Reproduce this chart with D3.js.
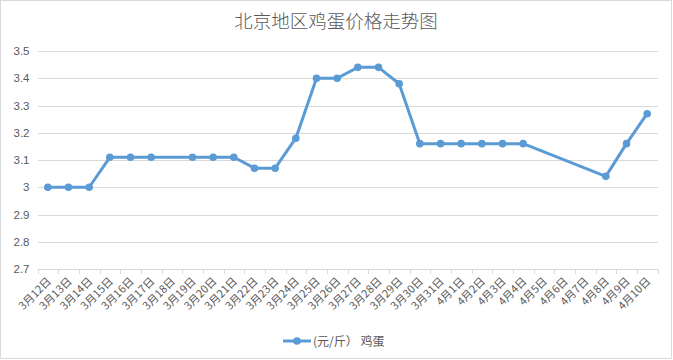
<!DOCTYPE html>
<html><head><meta charset="utf-8">
<script src="https://cdn.jsdelivr.net/npm/d3@7/dist/d3.min.js"></script>
<style>
html,body{margin:0;padding:0;background:#fff;}
svg{display:block;font-family:"Noto Sans CJK SC","Noto Sans",sans-serif;}
</style></head>
<body><svg id="c" width="673" height="360"></svg>
<script>
const title = "北京地区鸡蛋价格走势图";
const seriesName = "(元/斤） 鸡蛋";
const categories = ["3月12日","3月13日","3月14日","3月15日","3月16日","3月17日","3月18日","3月19日","3月20日","3月21日","3月22日","3月23日","3月24日","3月25日","3月26日","3月27日","3月28日","3月29日","3月30日","3月31日","4月1日","4月2日","4月3日","4月4日","4月5日","4月6日","4月7日","4月8日","4月9日","4月10日"];
const prices = [3.00,3.00,3.00,3.11,3.11,3.11,null,3.11,3.11,3.11,3.07,3.07,3.18,3.40,3.40,3.44,3.44,3.38,3.16,3.16,3.16,3.16,3.16,3.16,null,null,null,3.04,3.16,3.27];
const yTicks = [2.7,2.8,2.9,3.0,3.1,3.2,3.3,3.4,3.5];

const svg = d3.select("#c");
const W = 673, H = 360;
const m = {left: 37.5, right: 15.5, top: 51, bottom: 91};
const grid = "#d9d9d9", txt = "#595959", blue = "#5B9BD5";

svg.append("rect").attr("x",0.5).attr("y",0.5).attr("width",W-2).attr("height",H-2)
  .attr("fill","#fff").attr("stroke",grid);

const x = d3.scaleBand().domain(categories).range([m.left, W - m.right]).padding(0);
const y = d3.scaleLinear().domain([2.7,3.5]).range([H - m.bottom, m.top]);

svg.append("text").attr("x", 336).attr("y", 28).attr("text-anchor","middle")
  .attr("font-size", 18.5).attr("fill", txt).attr("font-weight",300).text(title);

// grid
const yAxis = d3.axisLeft(y).tickValues(yTicks).tickSize(-(W - m.left - m.right)).tickPadding(8)
  .tickFormat(d => d3.format("")(+d.toFixed(1)));
const gy = svg.append("g").attr("transform",`translate(${m.left},0)`).call(yAxis);
gy.select(".domain").remove();
gy.selectAll(".tick line").attr("stroke", grid).attr("shape-rendering","crispEdges");
gy.selectAll(".tick text").attr("fill", txt).attr("font-size", 11.5).attr("x",-8);

// x axis
const xAxis = d3.axisBottom(x).tickSizeInner(0).tickSizeOuter(0).tickFormat("");
const gx = svg.append("g").attr("transform",`translate(0,${y(2.7)})`).call(xAxis);
gx.select(".domain").attr("stroke", grid).attr("shape-rendering","crispEdges");
gx.selectAll(".tick").remove();
const bounds = categories.map(c => x(c)).concat([x(categories[categories.length-1]) + x.bandwidth()]);
gx.selectAll("line.tk").data(bounds).enter().append("line").attr("class","tk")
  .attr("x1", d => Math.round(d)+0.5).attr("x2", d => Math.round(d)+0.5)
  .attr("y1", 0).attr("y2", 5).attr("stroke", grid);

svg.append("g").selectAll("text").data(categories).enter().append("text")
  .attr("transform", d => `translate(${x(d) + x.bandwidth()/2 + 4},${y(2.7) + 13}) rotate(-45)`)
  .attr("text-anchor","end").attr("font-size", 11).attr("fill", txt).text(d => d);

// line
const pts = categories.map((c,i) => ({c, v: prices[i]})).filter(d => d.v !== null);
const line = d3.line().x(d => x(d.c) + x.bandwidth()/2).y(d => y(d.v));
svg.append("path").datum(pts).attr("d", line).attr("fill","none")
  .attr("stroke", blue).attr("stroke-width", 3).attr("stroke-linejoin","round");
svg.append("g").selectAll("circle").data(pts).enter().append("circle")
  .attr("cx", d => x(d.c) + x.bandwidth()/2).attr("cy", d => y(d.v)).attr("r", 3.8)
  .attr("fill", blue);

// legend
const lg = svg.append("g").attr("transform","translate(283,341)");
lg.append("line").attr("x1",0).attr("x2",28).attr("y1",0).attr("y2",0).attr("stroke",blue).attr("stroke-width",3);
lg.append("circle").attr("cx",14).attr("cy",0).attr("r",3.8).attr("fill",blue);
lg.append("text").attr("x",30).attr("y",4.5).attr("font-size",12).attr("fill",txt).text(seriesName);
</script></body></html>
